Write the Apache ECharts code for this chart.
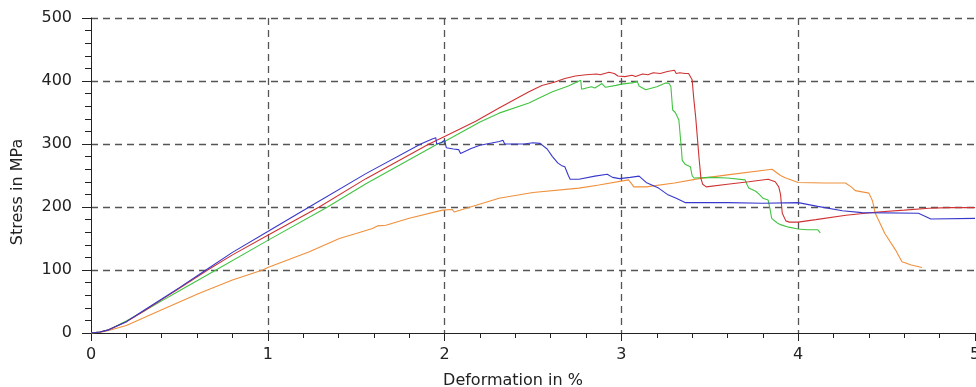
<!DOCTYPE html>
<html>
<head>
<meta charset="utf-8">
<script src="https://cdn.jsdelivr.net/npm/echarts@6/dist/echarts.min.js"></script>
<style>
  html, body { margin: 0; padding: 0; background: #fff; }
  #chart { width: 976px; height: 387px; }
</style>
</head>
<body>
<div id="chart"></div>
<script>
// Tensile test curves: [deformation %, stress MPa]
const specimenOrange = [
  [0, 0], [0.05, 1], [0.1, 4], [0.2, 12], [0.4, 37], [0.613, 63], [0.8, 84], [0.971, 100],
  [1.0, 104], [1.235, 129], [1.405, 150], [1.5, 158], [1.592, 166], [1.62, 170], [1.668, 171],
  [1.8, 182], [1.988, 195], [2.044, 196], [2.054, 192], [2.1, 196], [2.308, 214], [2.5, 223],
  [2.76, 230], [2.873, 235], [3.04, 243], [3.055, 238], [3.07, 232], [3.14, 232], [3.3, 238],
  [3.44, 245], [3.6, 251], [3.852, 260], [3.9, 250], [3.93, 246], [4.0, 239], [4.15, 238],
  [4.267, 238], [4.3, 232], [4.323, 226], [4.40, 222], [4.42, 210], [4.436, 190], [4.49, 158],
  [4.55, 132], [4.587, 113], [4.64, 108], [4.70, 104]
];

const specimenGreen = [
  [0, 0], [0.05, 1.5], [0.1, 5], [0.2, 19], [0.3, 35], [0.4, 51], [0.5, 67], [0.707, 100],
  [1.0, 147], [1.338, 200], [1.555, 237], [1.96, 300], [2.0, 304], [2.2, 335], [2.308, 349],
  [2.477, 365], [2.55, 375], [2.56, 373], [2.61, 383], [2.62, 381], [2.7, 392], [2.77, 401],
  [2.775, 387], [2.83, 391], [2.85, 389], [2.89, 396], [2.91, 390], [2.97, 393], [3.0, 395],
  [3.06, 397], [3.09, 399], [3.10, 392], [3.137, 386], [3.2, 391], [3.25, 397], [3.27, 396],
  [3.28, 391], [3.29, 354], [3.305, 350], [3.325, 338], [3.34, 290], [3.344, 274], [3.36, 268],
  [3.39, 264], [3.40, 250], [3.41, 246], [3.5, 247], [3.6, 246], [3.70, 243], [3.71, 236],
  [3.72, 230], [3.76, 225], [3.78, 220], [3.80, 214], [3.83, 211], [3.84, 198], [3.85, 182],
  [3.88, 175], [3.9, 172], [3.946, 168], [4.0, 165], [4.05, 164], [4.11, 164], [4.125, 159]
];

const specimenRed = [
  [0, 0], [0.05, 1.5], [0.1, 5], [0.2, 18], [0.3, 35], [0.4, 53], [0.5, 71], [0.66, 100],
  [0.8, 124], [1.0, 155], [1.291, 200], [1.555, 245], [1.912, 300], [2.0, 312], [2.176, 336],
  [2.308, 357], [2.477, 383], [2.55, 393], [2.56, 390], [2.62, 398], [2.63, 396], [2.68, 404],
  [2.69, 402], [2.74, 408], [2.75, 405], [2.80, 410], [2.81, 408], [2.86, 411], [2.88, 410],
  [2.93, 414], [2.96, 412], [2.98, 408], [3.02, 407], [3.06, 409], [3.08, 407], [3.12, 411],
  [3.15, 410], [3.18, 413], [3.22, 412], [3.26, 415], [3.30, 417], [3.31, 412], [3.33, 413],
  [3.36, 412], [3.38, 412], [3.40, 402], [3.41, 370], [3.42, 343], [3.44, 275], [3.45, 245],
  [3.46, 236], [3.48, 232], [3.6, 236], [3.72, 240], [3.83, 244], [3.87, 240], [3.89, 232],
  [3.90, 220], [3.91, 190], [3.93, 178], [3.95, 176], [4.0, 176], [4.1, 180], [4.27, 187],
  [4.45, 192], [4.6, 195], [4.74, 198], [4.85, 199], [5.0, 199]
];

const specimenBlue = [
  [0, 0], [0.05, 1.5], [0.1, 5], [0.2, 18], [0.3, 36], [0.4, 54], [0.5, 72], [0.65, 100],
  [0.8, 128], [1.0, 161], [1.234, 200], [1.555, 253], [1.865, 300], [1.93, 308], [1.95, 310],
  [1.955, 300], [1.98, 302], [2.0, 306], [2.01, 294], [2.05, 292], [2.08, 291], [2.09, 285],
  [2.15, 293], [2.2, 298], [2.31, 304], [2.33, 306], [2.34, 300], [2.45, 300], [2.5, 302],
  [2.54, 301], [2.58, 292], [2.61, 280], [2.64, 270], [2.66, 266], [2.68, 264], [2.70, 250],
  [2.71, 244], [2.76, 244], [2.85, 249], [2.92, 252], [2.95, 247], [2.99, 245], [3.05, 247],
  [3.10, 249], [3.14, 239], [3.21, 230], [3.26, 220], [3.31, 214], [3.36, 207], [3.6, 207],
  [3.8, 206], [4.0, 207], [4.11, 201], [4.25, 194], [4.36, 191], [4.68, 190], [4.72, 185],
  [4.75, 181], [5.0, 182]
];

const xTitle = 'Deformation in %';
const yTitle = 'Stress in MPa';

const FONT = 'DejaVu Sans';
const TEXT = '#222';
const AXIS = '#222';
const GRIDLINE = '#555';

const chart = echarts.init(document.getElementById('chart'), null, { renderer: 'canvas' });

const baseX = { type: 'value', min: 0, max: 5, gridIndex: 0 };
const baseY = { type: 'value', min: 0, max: 500, gridIndex: 0 };

function line(name, data, color) {
  return {
    name, type: 'line', data, showSymbol: false, symbol: 'none',
    xAxisIndex: 0, yAxisIndex: 0,
    lineStyle: { color, width: 1.1 },
    animation: false
  };
}

chart.setOption({
  animation: false,
  backgroundColor: '#fff',
  grid: { left: 91, right: 1, top: 18, bottom: 54, containLabel: false, outerBoundsMode: 'none' },
  xAxis: [
    Object.assign({}, baseX, {
      interval: 1,
      axisLine: { show: true, onZero: false, lineStyle: { color: AXIS, width: 1 } },
      axisTick: { show: true, inside: false, length: 8, lineStyle: { color: AXIS } },
      minorTick: { show: true, splitNumber: 5, length: 5, lineStyle: { color: AXIS } },
      axisLabel: { show: true, margin: 14, color: TEXT, fontFamily: FONT, fontSize: 16, hideOverlap: false },
      splitLine: { show: true, showMinLine: false, showMaxLine: false,
        lineStyle: { color: GRIDLINE, width: 1.3, type: [7, 5] } }
    }),
    Object.assign({}, baseX, {
      interval: 0.2,
      axisLine: { show: false },
      axisTick: { show: true, inside: true, length: 5, lineStyle: { color: AXIS } },
      axisLabel: { show: false },
      splitLine: { show: false }
    })
  ],
  yAxis: [
    Object.assign({}, baseY, {
      interval: 100,
      axisLine: { show: true, onZero: false, lineStyle: { color: AXIS, width: 1 } },
      axisTick: { show: true, inside: false, length: 9, lineStyle: { color: AXIS } },
      minorTick: { show: true, splitNumber: 5, length: 6, lineStyle: { color: AXIS } },
      axisLabel: { show: true, margin: 19, color: TEXT, fontFamily: FONT, fontSize: 16 },
      splitLine: { show: true, showMinLine: false, showMaxLine: true,
        lineStyle: { color: GRIDLINE, width: 1.3, type: [7, 5] } }
    }),
    Object.assign({}, baseY, {
      interval: 20,
      axisLine: { show: false },
      axisTick: { show: true, inside: true, length: 6, lineStyle: { color: AXIS } },
      axisLabel: { show: false },
      splitLine: { show: false }
    })
  ],
  graphic: [
    { type: 'text', x: 513, y: 381, silent: true,
      style: { text: xTitle, fill: TEXT, font: '16px "' + FONT + '"', align: 'center', verticalAlign: 'middle' } },
    { type: 'text', x: 18, y: 192, rotation: Math.PI / 2, silent: true,
      style: { text: yTitle, fill: TEXT, font: '16px "' + FONT + '"', align: 'center', verticalAlign: 'middle' } }
  ],
  series: [
    line('Specimen 4', specimenOrange, '#f0903c'),
    line('Specimen 3', specimenGreen, '#42c442'),
    line('Specimen 2', specimenRed, '#cf3232'),
    line('Specimen 1', specimenBlue, '#3838cc')
  ]
});
</script>
</body>
</html>
